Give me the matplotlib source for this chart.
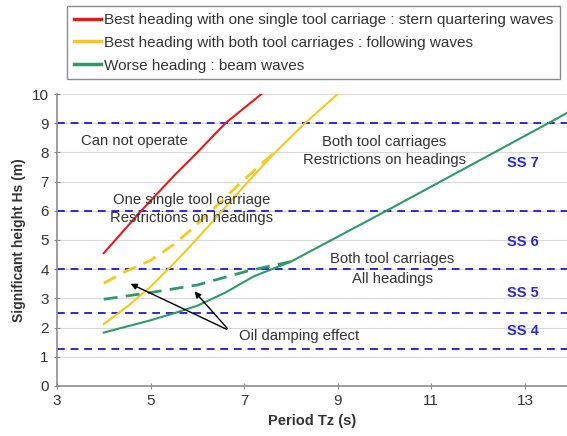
import numpy as np
import matplotlib
matplotlib.use('Agg')
import matplotlib.pyplot as plt

plt.rcParams['font.family'] = ['Liberation Sans', 'DejaVu Sans']

# curves (Tz in s, Hs in m)
red_tz = [4.0, 4.8, 5.5, 6.0, 6.6, 7.37]
red_hs = [4.55, 6.0, 7.2, 8.0, 9.0, 10.0]

yel_tz = [4.0, 4.5, 5.0, 5.5, 6.0, 6.5, 7.0, 7.6, 8.3, 9.0]
yel_hs = [2.12, 2.72, 3.4, 4.2, 5.05, 5.95, 6.85, 7.9, 9.0, 10.0]

yel_damp_tz = [4.0, 4.5, 5.0, 5.5, 5.9, 6.4, 6.85, 7.4, 7.62]
yel_damp_hs = [3.52, 3.95, 4.3, 4.85, 5.4, 6.15, 6.85, 7.65, 7.95]

grn_tz = [4.0, 5.0, 5.5, 6.0, 6.6, 7.2, 8.0, 10.1, 13.5, 13.9]
grn_hs = [1.83, 2.25, 2.49, 2.75, 3.2, 3.75, 4.26, 6.05, 9.0, 9.35]

grn_damp_tz = [4.0, 5.0, 6.0, 7.1, 8.0]
grn_damp_hs = [2.97, 3.2, 3.46, 3.95, 4.26]

# sea state limits
ss_limits = [1.25, 2.5, 4.0, 6.0, 9.0]
ss_names = ['SS 4', 'SS 5', 'SS 6', 'SS 7']
ss_label_hs = [1.88, 3.18, 4.93, 7.64]

legend_labels = ['Best heading with one single tool carriage : stern quartering waves',
                 'Best heading with both tool carriages : following waves',
                 'Worse heading : beam waves']

red = '#e41a1c'
yellow = '#f7c81e'
green = '#2f9a68'
blue = '#2a2ad4'
grey_txt = '#333333'

fig = plt.figure(figsize=(5.67, 4.36), dpi=100)
ax = fig.add_axes([0.1005, 0.1147, 0.8995, 0.6697])

ax.set_xlim(3, 13.9)
ax.set_ylim(0, 10)
ax.set_xticks([3, 5, 7, 9, 11, 13])
ax.set_yticks(range(0, 11))
ax.grid(axis='y', color='#d9d9d9', linewidth=0.8)
ax.set_axisbelow(True)
for s in ['top', 'right']:
    ax.spines[s].set_visible(False)
for s in ['left', 'bottom']:
    ax.spines[s].set_color('#8c8c8c')
    ax.spines[s].set_linewidth(1.2)
ax.tick_params(direction='inout', length=5, color='#8c8c8c', labelsize=11, labelcolor=grey_txt)

for h in ss_limits:
    ax.axhline(h, color=blue, linewidth=1.4, dashes=(4, 3), zorder=2)

l1, = ax.plot(red_tz, red_hs, color=red, linewidth=1.5, zorder=3)
l2, = ax.plot(yel_tz, yel_hs, color=yellow, linewidth=1.5, zorder=3)
ax.plot(yel_damp_tz, yel_damp_hs, color=yellow, linewidth=2, dashes=(5, 3), zorder=3)
l3, = ax.plot(grn_tz, grn_hs, color=green, linewidth=1.5, zorder=3)
ax.plot(grn_damp_tz, grn_damp_hs, color=green, linewidth=2, dashes=(5, 3), zorder=3)

txt = dict(fontsize=10.7, color=grey_txt, ha='center', va='center')
ax.text(4.65, 8.4, 'Can not operate', **txt)
ax.text(5.88, 6.37, 'One single tool carriage', **txt)
ax.text(5.88, 5.75, 'Restrictions on headings', **txt)
ax.text(10.0, 8.36, 'Both tool carriages', **txt)
ax.text(10.0, 7.74, 'Restrictions on headings', **txt)
ax.text(10.16, 4.35, 'Both tool carriages', **txt)
ax.text(10.16, 3.66, 'All headings', **txt)

for name, y in zip(ss_names, ss_label_hs):
    ax.text(12.96, y, name, fontsize=10.5, color=blue, fontweight='bold', ha='center', va='center')

# oil damping arrows
for tip in [(4.52, 3.54), (5.9, 3.31)]:
    ax.annotate('', xy=tip, xytext=(6.68, 1.9),
                arrowprops=dict(arrowstyle='-|>', color='black', lw=1.0, mutation_scale=9))
ax.text(6.9, 1.72, 'Oil damping effect', fontsize=10.7, color=grey_txt, ha='left', va='center')

ax.set_xlabel('Period Tz (s)', fontsize=10.5, fontweight='bold', color=grey_txt)
ax.set_ylabel('Significant height Hs (m)', fontsize=10, fontweight='bold', color=grey_txt)

leg = fig.legend([l1, l2, l3], legend_labels, loc='upper left',
                 bbox_to_anchor=(67 / 567, 1 - 6 / 436), borderaxespad=0, fontsize=11,
                 handlelength=1.8, handletextpad=0.15, borderpad=0.45,
                 labelspacing=0.58, fancybox=False, framealpha=1)
leg.get_frame().set_edgecolor('#8c8c8c')
leg.get_frame().set_linewidth(1.0)
for t in leg.get_texts():
    t.set_color(grey_txt)
for line in leg.get_lines():
    line.set_linewidth(2.5)

fig.savefig('out.png', dpi=100)
